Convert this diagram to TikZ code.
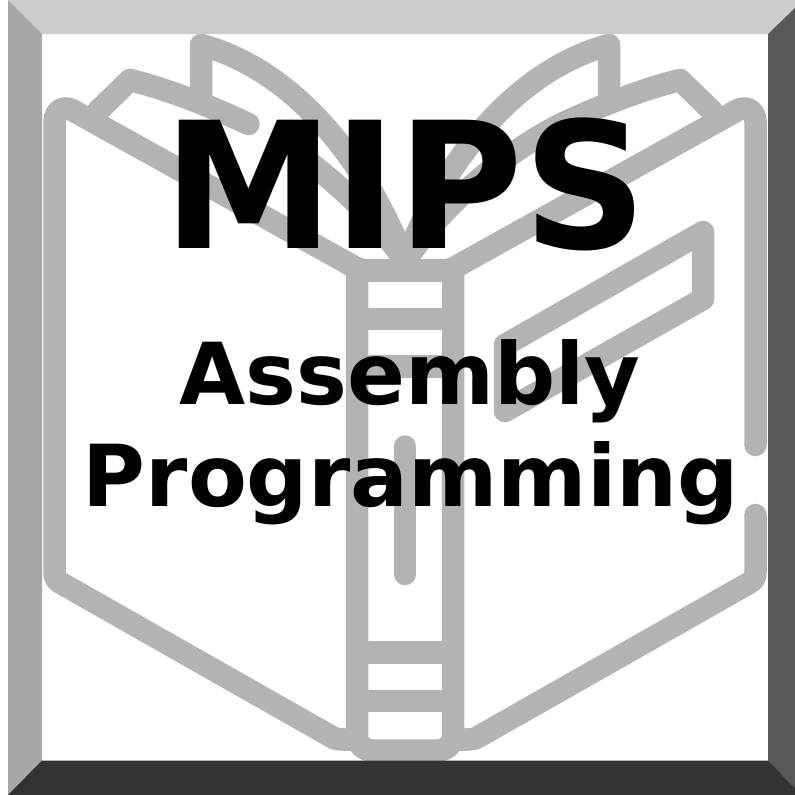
\documentclass[tikz,border=0pt]{standalone}
\usepackage{graphicx}
\usepackage{fontspec}
\setmainfont{DejaVu Sans}
\definecolor{bookgray}{HTML}{B3B3B3}
\definecolor{bevT}{HTML}{CCCCCC}
\definecolor{bevL}{HTML}{A6A6A6}
\definecolor{bevR}{HTML}{595959}
\definecolor{bevB}{HTML}{333333}
\tikzset{
  bookline/.style={draw=bookgray,line width=22.5pt,line cap=round,line join=round},
  title/.style={inner sep=0pt,anchor=base,text=black}
}
\begin{document}
\begin{tikzpicture}[x=1pt,y=-1pt]
\useasboundingbox (0,0) rectangle (795,795);
\fill[white] (0,0) rectangle (795,795);
% book covers
\draw[bookline] (755.5,445) -- (755.5,122) .. controls (755.5,112) and (748,105) .. (737.5,110.2) -- (460,264.5) .. controls (455,267.5) and (450,270.5) .. (440,270.5);
\draw[bookline] (370,270.5) .. controls (360,270.5) and (355,267.5) .. (350,264.5) -- (72.5,110.2) .. controls (62,105) and (54.5,112) .. (54.5,122) -- (54.5,572) .. controls (54.5,577) and (56,580) .. (60.5,582.8) -- (332,737) .. controls (335,739) and (338,739.5) .. (345,739.5) -- (357,739.5);
\draw[bookline] (755.5,515) -- (755.5,572) .. controls (755.5,577) and (754,580) .. (749.5,582.8) -- (478,737) .. controls (475,739) and (472,739.5) .. (465,739.5) -- (453,739.5);
% spine
\draw[bookline,line cap=butt,rounded corners=15pt] (357,270.5) -- (357,750.5) -- (453,750.5) -- (453,270.5);
\foreach \yy in {270.5,319,366.5,652.5,701} \draw[bookline,line cap=butt] (345.75,\yy) -- (464.25,\yy);
\draw[bookline] (405,446.5) -- (405,574);
\draw[bookline] (505,345) -- (703,232) -- (703,299) -- (505,411) -- cycle;
% left pages
\draw[bookline] (98,111) -- (130,80) .. controls (170,90) and (210,106) .. (248.5,124);
\draw[bookline] (300,155) .. controls (330,178) and (375,215) .. (405,262);
\draw[bookline] (201,100) -- (201,45) .. controls (295,70) and (368,163) .. (405,262);
% right pages
\draw[bookline] (712,111) -- (680,80) .. controls (640,90) and (600,106) .. (561.5,124) .. controls (510,150) and (445,200) .. (405,262);
\draw[bookline] (609,100) -- (609,45) .. controls (515,70) and (442,163) .. (405,262);
% bevel
\fill[bevT] (8,0) -- (795,0) -- (795,8) -- (768,34) -- (42,34) -- cycle;
\fill[bevL] (8,0) -- (42,34) -- (42,760.5) -- (8,795) -- cycle;
\fill[bevR] (795,8) -- (768,34) -- (768,760.5) -- (795,788) -- cycle;
\fill[bevB] (8,795) -- (42,760.5) -- (768,760.5) -- (795,788) -- (795,795) -- cycle;
% text
\node[title,font=\bfseries\fontsize{176}{176}\selectfont] (mips) at (405,248) {\scalebox{.975}[1]{MIPS}};
\node[title,font=\bfseries\fontsize{85.5}{85.5}\selectfont] (asm) at (410,404) {Assembly};
\node[title,font=\bfseries\fontsize{85.5}{85.5}\selectfont] (prog) at (411,506) {\scalebox{1.003}[1]{Programming}};
\end{tikzpicture}
\end{document}
